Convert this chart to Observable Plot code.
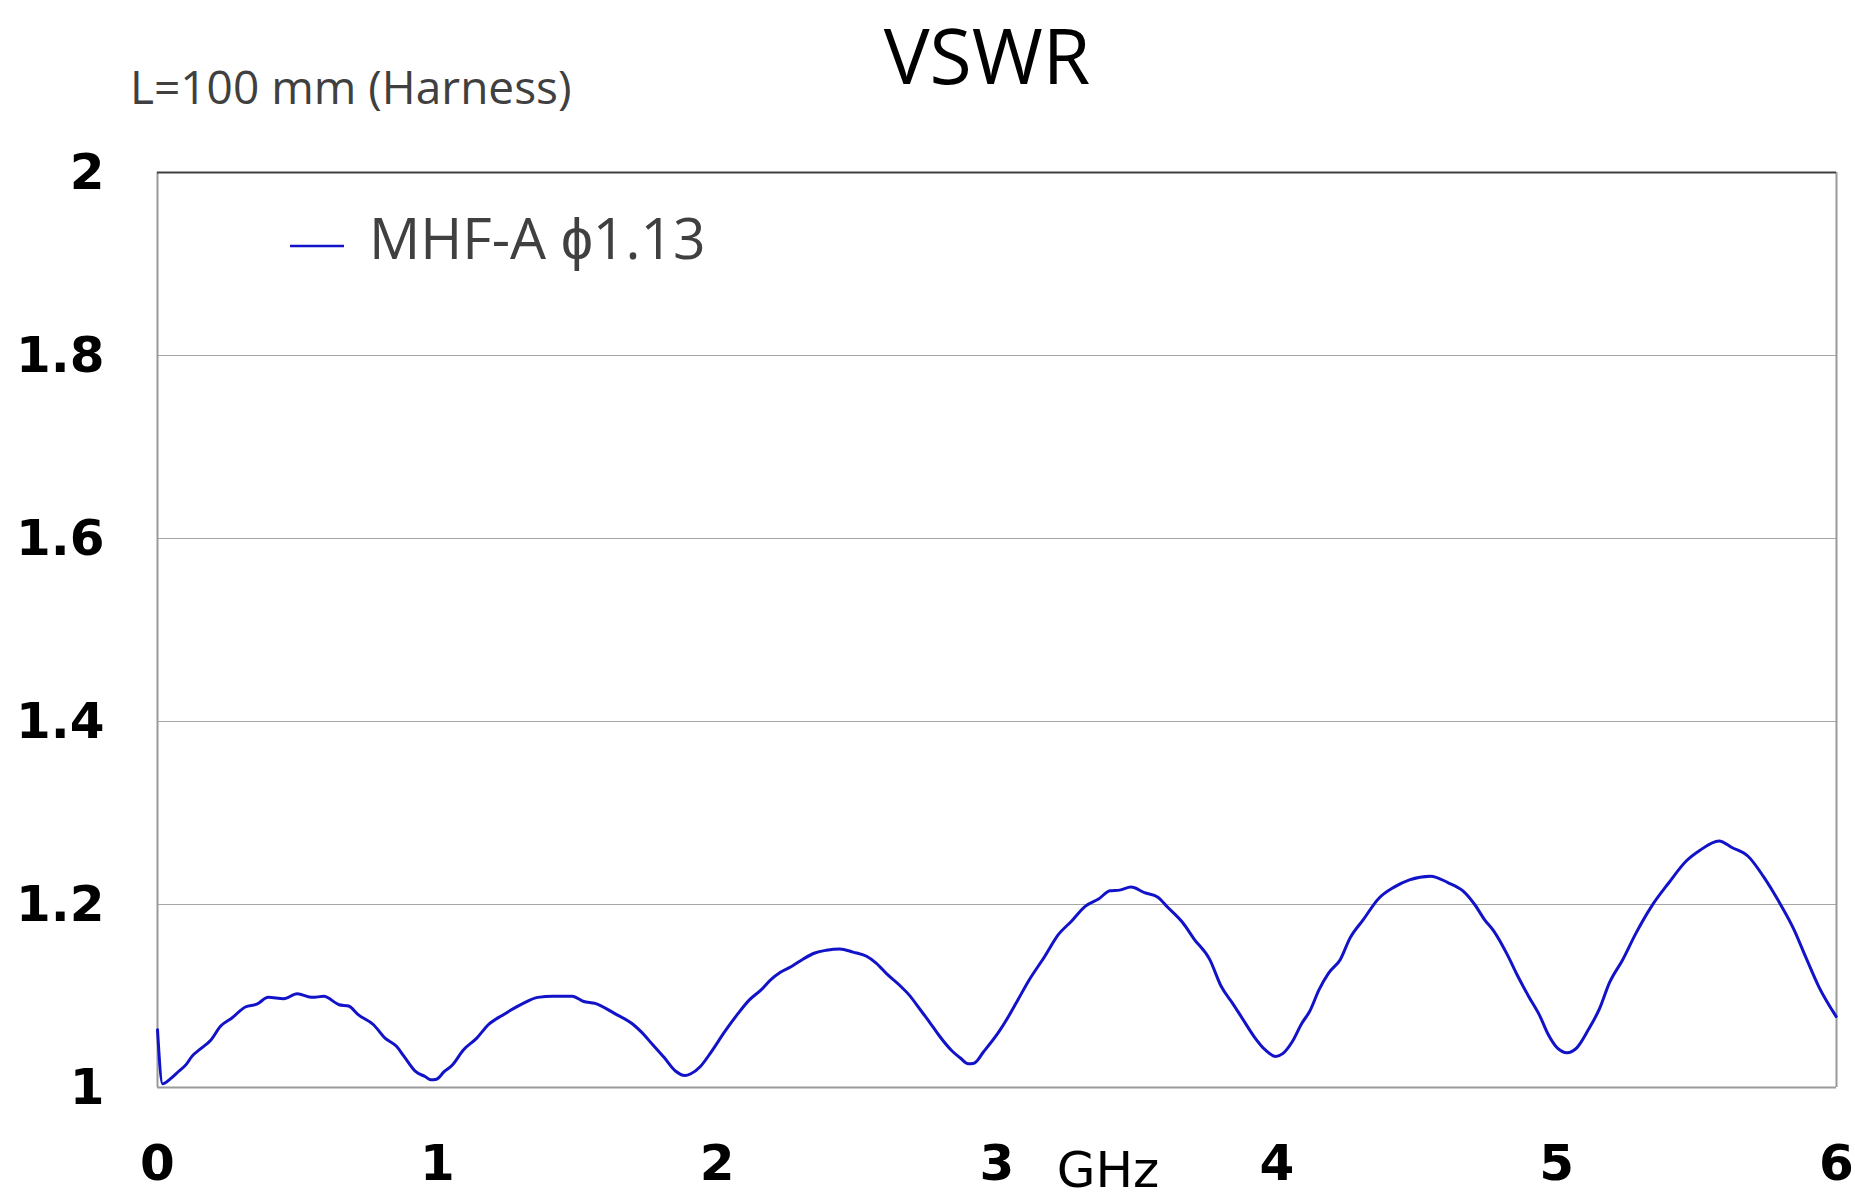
<!DOCTYPE html>
<html>
<head>
<meta charset="utf-8">
<script src="https://cdn.jsdelivr.net/npm/d3@7"></script>
<script src="https://cdn.jsdelivr.net/npm/@observablehq/plot@0.6"></script>
<style>
  html, body { margin: 0; padding: 0; background: #fff; }
  #wrap { position: relative; width: 1855px; height: 1200px; overflow: hidden; }
  #header { display: block; }
  #chart svg { display: block; }
  #legend { position: absolute; left: 0; top: 0; pointer-events: none; }
</style>
</head>
<body>
<div id="wrap">
  <svg id="header" width="1855" height="120"></svg>
  <div id="chart"></div>
  <svg id="legend" width="1855" height="300"></svg>
</div>
<script>
// ---- data ----
const titleText = "VSWR";
const subtitleText = "L=100 mm (Harness)";
const seriesName = "MHF-A \u03D51.13";
const xUnit = "GHz";
const xTicks = [0, 1, 2, 3, 4, 5, 6];
const yTicks = [1, 1.2, 1.4, 1.6, 1.8, 2];
const xDomain = [0, 6];
const yDomain = [1, 2];

const freqGHz = [
  0.000, 0.018, 0.048, 0.075, 0.102, 0.123, 0.157, 0.191, 0.225, 0.266,
  0.314, 0.355, 0.396, 0.451, 0.499, 0.553, 0.594, 0.649, 0.683, 0.717,
  0.772, 0.813, 0.854, 0.881, 0.922, 0.956, 0.977, 0.997, 1.025, 1.052,
  1.093, 1.141, 1.182, 1.236, 1.305, 1.359, 1.414, 1.482, 1.523, 1.564,
  1.633, 1.701, 1.728, 1.769, 1.810, 1.851, 1.885, 1.906, 1.940, 1.979,
  2.027, 2.075, 2.116, 2.158, 2.192, 2.226, 2.267, 2.308, 2.349, 2.390,
  2.438, 2.486, 2.534, 2.568, 2.610, 2.651, 2.685, 2.726, 2.760, 2.795,
  2.836, 2.870, 2.897, 2.918, 2.952, 3.007, 3.034, 3.075, 3.116, 3.171,
  3.219, 3.267, 3.315, 3.363, 3.404, 3.438, 3.479, 3.527, 3.575, 3.610,
  3.664, 3.705, 3.760, 3.801, 3.842, 3.884, 3.918, 3.959, 3.996, 4.021,
  4.055, 4.089, 4.117, 4.151, 4.185, 4.227, 4.261, 4.309, 4.364, 4.419,
  4.474, 4.549, 4.611, 4.666, 4.707, 4.742, 4.776, 4.824, 4.859, 4.900,
  4.941, 4.968, 5.003, 5.037, 5.071, 5.113, 5.154, 5.188, 5.236, 5.284,
  5.339, 5.401, 5.463, 5.511, 5.580, 5.628, 5.683, 5.738, 5.793, 5.848,
  5.889, 5.937, 5.999
];
const vswr = [
  1.063, 1.004, 1.010, 1.0175, 1.025, 1.034, 1.043, 1.052, 1.067, 1.076,
  1.088, 1.091, 1.0985, 1.097, 1.1025, 1.0985, 1.0996, 1.0905, 1.089, 1.0796,
  1.0686, 1.054, 1.045, 1.034, 1.0175, 1.012, 1.0084, 1.009, 1.0175, 1.024,
  1.041, 1.054, 1.0686, 1.0796, 1.0916, 1.0985, 1.0996, 1.0996, 1.094, 1.092,
  1.081, 1.0686, 1.061, 1.047, 1.033, 1.018, 1.013, 1.015, 1.023, 1.039,
  1.061, 1.081, 1.096, 1.107, 1.118, 1.126, 1.1325, 1.1405, 1.147, 1.150,
  1.1515, 1.148, 1.1434, 1.136, 1.123, 1.112, 1.1015, 1.085, 1.071, 1.056,
  1.041, 1.032, 1.026, 1.0266, 1.039, 1.061, 1.074, 1.096, 1.118, 1.1434,
  1.167, 1.182, 1.198, 1.206, 1.215, 1.2157, 1.219, 1.213, 1.208, 1.197,
  1.180, 1.162, 1.140, 1.1106, 1.092, 1.072, 1.056, 1.041, 1.034, 1.037,
  1.050, 1.070, 1.083, 1.107, 1.125, 1.140, 1.163, 1.1835, 1.2066, 1.219,
  1.227, 1.231, 1.224, 1.2146, 1.200, 1.1835, 1.1707, 1.145, 1.123, 1.0995,
  1.0775, 1.059, 1.043, 1.038, 1.043, 1.063, 1.0867, 1.114, 1.1397, 1.169,
  1.198, 1.2238, 1.2475, 1.259, 1.2695, 1.262, 1.253, 1.231, 1.2037, 1.1726,
  1.1433, 1.110, 1.0775
];

const rows = freqGHz.map((f, i) => ({ f, v: vswr[i] }));
const lineColor = "#1212c8";
const gridColor = "#a6a6a6";

// ---- header (title + subtitle) ----
const header = d3.select("#header");
header.append("text")
  .attr("x", 987).attr("y", 84)
  .attr("text-anchor", "middle")
  .style("font-family", "'Open Sans', sans-serif")
  .style("font-size", "77px")
  .attr("fill", "#000")
  .text(titleText);
header.append("text")
  .attr("x", 130).attr("y", 104)
  .style("font-family", "'Open Sans', sans-serif")
  .style("font-size", "46px")
  .attr("fill", "#404040")
  .text(subtitleText);

// ---- chart ----
const chart = Plot.plot({
  width: 1855,
  height: 1080,
  marginTop: 52,
  marginBottom: 113,
  marginLeft: 157,
  marginRight: 19,
  style: { background: "#fff", color: "#000", fontFamily: "'DejaVu Sans', sans-serif" },
  x: { domain: xDomain, label: null },
  y: { domain: yDomain, label: null },
  marks: [
    Plot.gridY(yTicks, { stroke: gridColor, strokeOpacity: 1, strokeWidth: 1.2 }),
    Plot.ruleX([xDomain[0], xDomain[1]], { stroke: "#9a9a9a", strokeWidth: 2 }),
    Plot.ruleY([yDomain[0]], { stroke: "#9a9a9a", strokeWidth: 2 }),
    Plot.ruleY([yDomain[1]], { stroke: "#404040", strokeWidth: 2 }),
    Plot.line(rows, { x: "f", y: "v", stroke: lineColor, strokeWidth: 3, curve: "monotone-x" }),
    Plot.axisX({ ticks: xTicks, tickSize: 0, tickPadding: 57, fontSize: 50, fontWeight: "bold",
                 tickFormat: d => String(d), label: null }),
    Plot.axisY({ ticks: yTicks, tickSize: 0, tickPadding: 53, fontSize: 50, fontWeight: "bold",
                 tickFormat: d => String(+d.toFixed(1)), label: null }),
    Plot.text([xUnit], { text: d => d, frameAnchor: "bottom", lineAnchor: "top", dx: 111, dy: 64,
                         fontSize: 50, fontWeight: "normal", fill: "#000" })
  ]
});
document.getElementById("chart").appendChild(chart);

// ---- legend (inside plot area, top-left) ----
const legend = d3.select("#legend");
legend.append("line")
  .attr("x1", 290).attr("x2", 344).attr("y1", 246).attr("y2", 246)
  .attr("stroke", lineColor).attr("stroke-width", 2.6);
legend.append("text")
  .attr("x", 369).attr("y", 259)
  .style("font-family", "'Open Sans', sans-serif")
  .style("font-size", "57px")
  .attr("fill", "#404040")
  .text(seriesName);
</script>
</body>
</html>
